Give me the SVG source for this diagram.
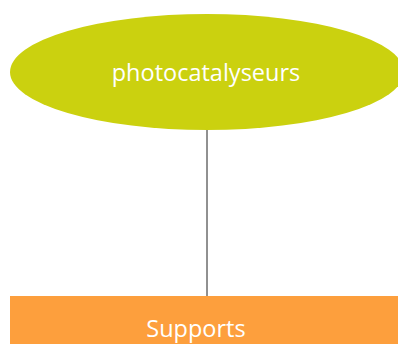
<svg xmlns="http://www.w3.org/2000/svg" width="398" height="344" viewBox="0 0 398 344">
<style>
.t{font-family:"Open Sans","Liberation Sans",sans-serif;font-size:23.5px;fill:#ffffff;text-anchor:middle}
</style>
<rect width="398" height="344" fill="#ffffff"/>
<g id="connectors">
<line x1="207" y1="130" x2="207" y2="296" stroke="#222222" stroke-width="1"/>
</g>
<g id="photocatalyseurs">
<ellipse cx="207" cy="72" rx="197" ry="58" fill="#cbd10f"/>
<text class="t" x="206" y="81">photocatalyseurs</text>
</g>
<g id="supports">
<rect x="10" y="296" width="400" height="60" fill="#fd9f3d"/>
<text class="t" x="196" y="337">Supports</text>
</g>
</svg>
